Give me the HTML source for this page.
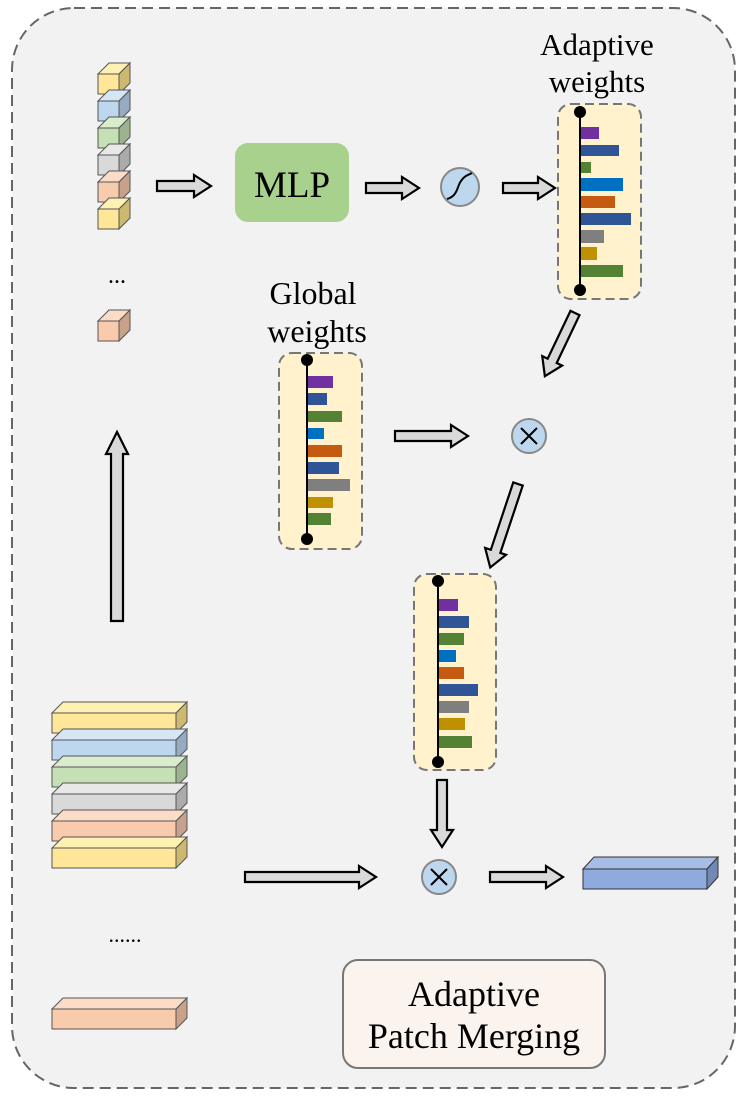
<!DOCTYPE html>
<html><head><meta charset="utf-8"><style>html,body{margin:0;padding:0;background:#fff}svg{display:block}text{font-family:"Liberation Serif",serif;fill:#000}</style></head>
<body>
<svg width="747" height="1109" viewBox="0 0 747 1109" xmlns="http://www.w3.org/2000/svg">
<rect x="12" y="8" width="723" height="1080" rx="62" fill="#f2f2f2" stroke="#666" stroke-width="2" stroke-dasharray="11,6"/>

<!-- small cubes -->
<g stroke="#555" stroke-width="1">
<polygon points="98,74 109,63 130,63 119,74" fill="#fff0b3"/><polygon points="119,74 130,63 130,83 119,94" fill="#cdb86f"/><rect x="98" y="74" width="21" height="20" fill="#ffe699"/>
<polygon points="98,101 109,90 130,90 119,101" fill="#d6e6f5"/><polygon points="119,101 130,90 130,110 119,121" fill="#94abc2"/><rect x="98" y="101" width="21" height="20" fill="#bdd7ee"/>
<polygon points="98,128 109,117 130,117 119,128" fill="#d9ecce"/><polygon points="119,128 130,117 130,137 119,148" fill="#9cb38f"/><rect x="98" y="128" width="21" height="20" fill="#c5e0b4"/>
<polygon points="98,155 109,144 130,144 119,155" fill="#e8e8e8"/><polygon points="119,155 130,144 130,164 119,175" fill="#ababab"/><rect x="98" y="155" width="21" height="20" fill="#d9d9d9"/>
<polygon points="98,182 109,171 130,171 119,182" fill="#fbdcc7"/><polygon points="119,182 130,171 130,191 119,202" fill="#c9a18a"/><rect x="98" y="182" width="21" height="20" fill="#f8cbad"/>
<polygon points="98,209 109,198 130,198 119,209" fill="#fff0b3"/><polygon points="119,209 130,198 130,218 119,229" fill="#cdb86f"/><rect x="98" y="209" width="21" height="20" fill="#ffe699"/>
<polygon points="98,321 109,310 130,310 119,321" fill="#fbdcc7"/><polygon points="119,321 130,310 130,330 119,341" fill="#c9a18a"/><rect x="98" y="321" width="21" height="20" fill="#f8cbad"/>
</g>
<text x="117" y="283" font-size="24" text-anchor="middle">...</text>

<!-- arrows -->
<g fill="#d9d9d9" stroke="#000" stroke-width="2.2" stroke-linejoin="miter">
<polygon points="157,181 194,181 194,175 211,186 194,197 194,191 157,191"/>
<polygon points="366,183 402,183 402,177 419,188 402,199 402,193 366,193"/>
<polygon points="503,183 538,183 538,177 555,188 538,199 538,193 503,193"/>
<polygon points="395,431 451,431 451,425 468,436 451,447 451,441 395,441"/>
<polygon points="245,872 359,872 359,866 376,877 359,888 359,882 245,882"/>
<polygon points="490,872 546,872 546,866 563,877 546,888 546,882 490,882"/>
<polygon points="437,780 447,780 447,830 453,830 442,847 431,830 437,830"/>
<polygon points="111,621 123,621 123,454 128,454 117,432 106,454 111,454"/>
<g transform="translate(575,313) rotate(115.5)"><polygon points="0,-5 53,-5 53,-11 70,0 53,11 53,5 0,5"/></g>
<g transform="translate(518,484) rotate(108.4)"><polygon points="0,-5 71,-5 71,-11 88,0 71,11 71,5 0,5"/></g>
</g>

<!-- MLP -->
<rect x="235" y="143" width="114" height="79" rx="13" fill="#a9d18e"/>
<text x="292" y="197" font-size="37" text-anchor="middle">MLP</text>

<!-- sigmoid -->
<circle cx="460" cy="187" r="19" fill="#bdd7ee" stroke="#888" stroke-width="2"/>
<path d="M447,199 C458,196 457,186 461,181 C464,176 468,175 472,173" fill="none" stroke="#000" stroke-width="2"/>

<!-- Adaptive weights -->
<text x="597" y="55" font-size="31" text-anchor="middle">Adaptive</text>
<text x="597" y="92" font-size="31" text-anchor="middle">weights</text>
<rect x="558" y="104" width="83" height="195" rx="13" fill="#fff2cc" stroke="#777" stroke-width="2" stroke-dasharray="9,5"/>
<rect x="580" y="127" width="19" height="12" fill="#7030a0"/>
<rect x="580" y="145" width="39" height="11" fill="#2f5597"/>
<rect x="580" y="162" width="11" height="11" fill="#548235"/>
<rect x="580" y="178" width="43" height="13" fill="#0070c0"/>
<rect x="580" y="196" width="35" height="12" fill="#c55a11"/>
<rect x="580" y="213" width="51" height="12" fill="#2f5597"/>
<rect x="580" y="230" width="24" height="13" fill="#7f7f7f"/>
<rect x="580" y="247" width="17" height="13" fill="#bf9000"/>
<rect x="580" y="265" width="43" height="12" fill="#548235"/>
<line x1="580" y1="112" x2="580" y2="290" stroke="#000" stroke-width="2"/>
<circle cx="580" cy="112" r="6"/><circle cx="580" cy="290" r="6"/>

<!-- Global weights -->
<text x="313" y="304" font-size="32" text-anchor="middle">Global</text>
<text x="317" y="342" font-size="32" text-anchor="middle">weights</text>
<rect x="279" y="353" width="83" height="196" rx="13" fill="#fff2cc" stroke="#777" stroke-width="2" stroke-dasharray="9,5"/>
<rect x="307" y="376" width="26" height="12" fill="#7030a0"/>
<rect x="307" y="393" width="20" height="12" fill="#2f5597"/>
<rect x="307" y="411" width="35" height="11" fill="#548235"/>
<rect x="307" y="428" width="17" height="11" fill="#0070c0"/>
<rect x="307" y="445" width="35" height="12" fill="#c55a11"/>
<rect x="307" y="462" width="32" height="12" fill="#2f5597"/>
<rect x="307" y="479" width="43" height="12" fill="#7f7f7f"/>
<rect x="307" y="497" width="26" height="11" fill="#bf9000"/>
<rect x="307" y="513" width="24" height="12" fill="#548235"/>
<line x1="307" y1="360" x2="307" y2="539" stroke="#000" stroke-width="2"/>
<circle cx="307" cy="360" r="6"/><circle cx="307" cy="539" r="6"/>

<!-- multiply 1 -->
<circle cx="529" cy="436" r="17" fill="#bdd7ee" stroke="#888" stroke-width="2"/>
<path d="M521,428 L537,444 M537,428 L521,444" stroke="#000" stroke-width="2"/>

<!-- third panel -->
<rect x="414" y="574" width="82" height="196" rx="13" fill="#fff2cc" stroke="#777" stroke-width="2" stroke-dasharray="9,5"/>
<rect x="438" y="599" width="20" height="12" fill="#7030a0"/>
<rect x="438" y="616" width="31" height="12" fill="#2f5597"/>
<rect x="438" y="633" width="26" height="12" fill="#548235"/>
<rect x="438" y="650" width="18" height="12" fill="#0070c0"/>
<rect x="438" y="667" width="26" height="12" fill="#c55a11"/>
<rect x="438" y="684" width="40" height="12" fill="#2f5597"/>
<rect x="438" y="701" width="31" height="12" fill="#7f7f7f"/>
<rect x="438" y="718" width="27" height="12" fill="#bf9000"/>
<rect x="438" y="736" width="34" height="12" fill="#548235"/>
<line x1="438" y1="581" x2="438" y2="762" stroke="#000" stroke-width="2"/>
<circle cx="438" cy="581" r="6"/><circle cx="438" cy="762" r="6"/>

<!-- multiply 2 -->
<circle cx="439" cy="877" r="17" fill="#bdd7ee" stroke="#888" stroke-width="2"/>
<path d="M431,869 L447,885 M447,869 L431,885" stroke="#000" stroke-width="2"/>

<!-- output bar -->
<g stroke="#333" stroke-width="1">
<polygon points="583,869 594,857 718,857 707,869" fill="#a6bde6"/>
<polygon points="707,869 718,857 718,877 707,889" fill="#7189b5"/>
<rect x="583" y="869" width="124" height="20" fill="#8faadc"/>
</g>

<!-- stacked bars -->
<g stroke="#555" stroke-width="1">
<polygon points="52,713 63,702 187,702 176,713" fill="#fff0b3"/><polygon points="176,713 187,702 187,722 176,733" fill="#cdb86f"/><rect x="52" y="713" width="124" height="20" fill="#ffe699"/>
<polygon points="52,740 63,729 187,729 176,740" fill="#d6e6f5"/><polygon points="176,740 187,729 187,749 176,760" fill="#94abc2"/><rect x="52" y="740" width="124" height="20" fill="#bdd7ee"/>
<polygon points="52,767 63,756 187,756 176,767" fill="#d9ecce"/><polygon points="176,767 187,756 187,776 176,787" fill="#9cb38f"/><rect x="52" y="767" width="124" height="20" fill="#c5e0b4"/>
<polygon points="52,794 63,783 187,783 176,794" fill="#e8e8e8"/><polygon points="176,794 187,783 187,803 176,814" fill="#ababab"/><rect x="52" y="794" width="124" height="20" fill="#d9d9d9"/>
<polygon points="52,821 63,810 187,810 176,821" fill="#fbdcc7"/><polygon points="176,821 187,810 187,830 176,841" fill="#c9a18a"/><rect x="52" y="821" width="124" height="20" fill="#f8cbad"/>
<polygon points="52,848 63,837 187,837 176,848" fill="#fff0b3"/><polygon points="176,848 187,837 187,857 176,868" fill="#cdb86f"/><rect x="52" y="848" width="124" height="20" fill="#ffe699"/>
<polygon points="52,1009 63,998 187,998 176,1009" fill="#fbdcc7"/><polygon points="176,1009 187,998 187,1018 176,1029" fill="#c9a18a"/><rect x="52" y="1009" width="124" height="20" fill="#f8cbad"/>
</g>
<text x="125" y="942" font-size="22" text-anchor="middle">......</text>

<!-- label -->
<rect x="343" y="960" width="262" height="108" rx="15" fill="#fbf3ee" stroke="#777" stroke-width="2"/>
<text x="474" y="1006" font-size="36" text-anchor="middle">Adaptive</text>
<text x="474" y="1048" font-size="36" text-anchor="middle">Patch Merging</text>
</svg>
</body></html>
